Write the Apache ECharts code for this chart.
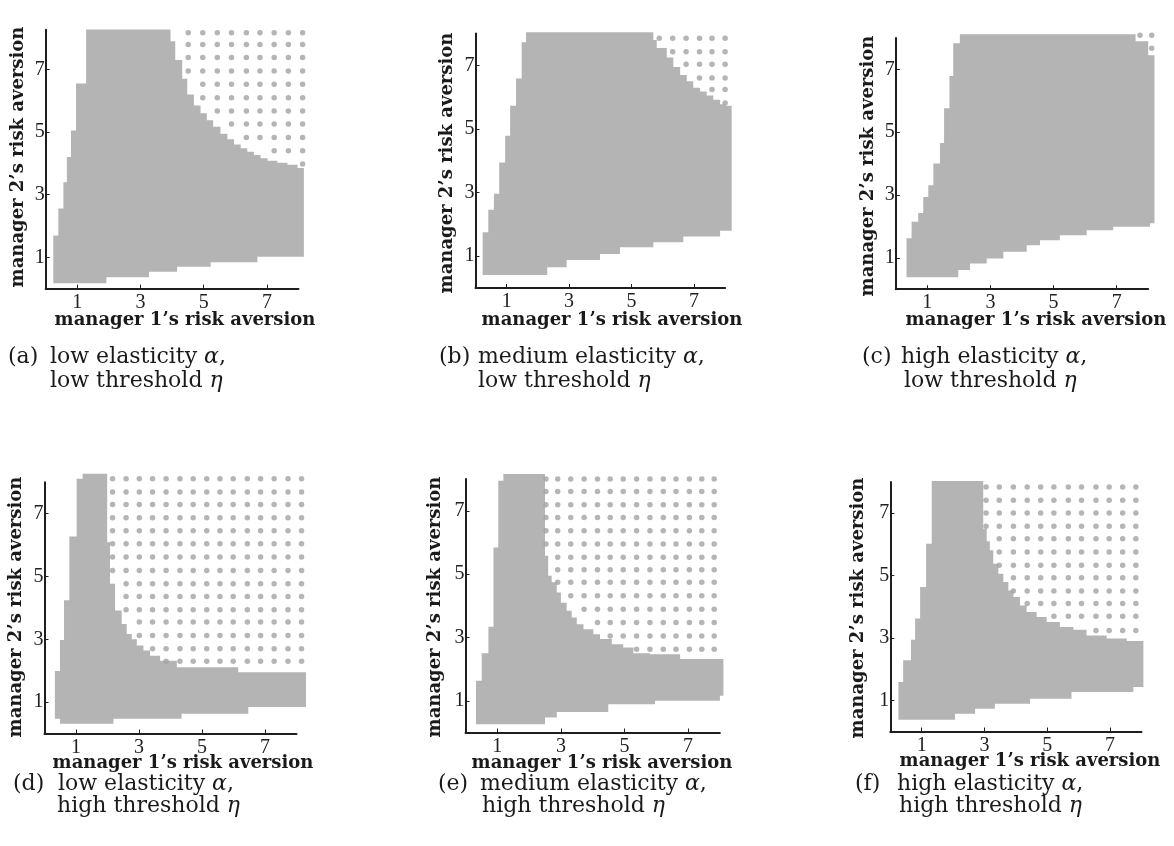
<!DOCTYPE html>
<html>
<head>
<meta charset="utf-8">
<script src="https://cdn.jsdelivr.net/npm/echarts@6/dist/echarts.min.js"></script>
<style>
  html, body { margin: 0; padding: 0; background: #fff; }
  #chart { width: 1174px; height: 846px; }
</style>
</head>
<body>
<div id="chart"></div>
<script>
// tick labels on both axes of every panel
const tickValues = [1, 3, 5, 7]

// (a) low elasticity, low threshold
const aUpperX = [0.24, 0.4, 0.56, 0.67, 0.8, 0.96, 1.28, 3.95, 4.1, 4.32, 4.48, 4.69, 4.9, 5.1, 5.3, 5.53, 5.75, 5.96, 6.17, 6.38, 6.59, 6.8, 7.02, 7.33, 7.65, 7.97, 8.17]
const aUpper = [1.7, 2.56, 3.4, 4.2, 5.05, 6.55, 8.28, 7.9, 7.3, 6.7, 6.2, 5.85, 5.6, 5.38, 5.17, 4.95, 4.77, 4.6, 4.48, 4.37, 4.27, 4.16, 4.08, 4.02, 3.96, 3.85]
const aLowerX = [0.24, 1.92, 3.27, 4.16, 5.22, 6.7, 8.17]
const aLower = [0.17, 0.36, 0.54, 0.7, 0.84, 1.02]
const aDotX = [4.51, 4.97, 5.43, 5.88, 6.35, 6.78, 7.23, 7.68, 8.13]
const aDotY = [8.17, 7.8, 7.38, 6.95, 6.53, 6.1, 5.67, 5.26, 4.83, 4.4, 3.98]
const aDotLow = [6.95, 6.1, 5.67, 5.26, 4.83, 4.83, 4.4, 4.4, 3.98]

// (b) medium elasticity, low threshold
const bUpperX = [0.23, 0.41, 0.59, 0.76, 0.95, 1.11, 1.3, 1.48, 1.62, 5.7, 5.81, 6.13, 6.34, 6.56, 6.77, 6.98, 7.2, 7.41, 7.62, 7.84, 8.0, 8.21]
const bUpper = [1.75, 2.46, 2.96, 3.95, 4.79, 5.73, 6.59, 7.73, 8.04, 7.8, 7.55, 7.25, 6.95, 6.7, 6.5, 6.3, 6.18, 6.05, 5.92, 5.78, 5.73]
const bLowerX = [0.23, 2.3, 2.92, 3.99, 4.63, 5.7, 6.66, 7.84, 8.21]
const bLower = [0.41, 0.65, 0.88, 1.07, 1.28, 1.44, 1.62, 1.8]
const bDotX = [5.89, 6.32, 6.75, 7.18, 7.58, 8.0]
const bDotY = [7.85, 7.43, 7.04, 6.6, 6.24, 5.82]
const bDotLow = [7.85, 7.43, 7.04, 6.6, 6.24, 5.82]

// (c) high elasticity, low threshold
const cUpperX = [0.34, 0.5, 0.71, 0.87, 1.03, 1.19, 1.4, 1.53, 1.7, 1.82, 2.03, 7.6, 8.0, 8.2]
const cUpper = [1.62, 2.15, 2.43, 2.94, 3.31, 4.0, 4.66, 5.76, 6.79, 7.83, 8.12, 7.9, 7.45]
const cLowerX = [0.34, 1.98, 2.35, 2.88, 3.41, 4.15, 4.57, 5.2, 6.05, 6.89, 8.06, 8.2]
const cLower = [0.38, 0.61, 0.82, 0.98, 1.19, 1.4, 1.56, 1.72, 1.88, 1.99, 2.1]
const cDotX = [7.74, 8.11]
const cDotY = [8.09, 7.67]
const cDotLow = [8.09, 7.67]

// (d) low elasticity, high threshold
const dUpperX = [0.33, 0.49, 0.62, 0.79, 1.02, 1.21, 1.99, 2.08, 2.24, 2.45, 2.61, 2.77, 2.93, 3.14, 3.35, 3.67, 4.2, 6.15, 8.3]
const dUpper = [1.99, 2.98, 4.24, 6.27, 8.11, 8.27, 6.09, 4.77, 3.92, 3.49, 3.17, 3.0, 2.8, 2.64, 2.48, 2.32, 2.11, 1.95]
const dLowerX = [0.33, 0.49, 2.19, 4.35, 6.47, 8.3]
const dLower = [0.47, 0.31, 0.47, 0.63, 0.84]
const dDotX = [2.16, 2.59, 3.01, 3.43, 3.86, 4.3, 4.72, 5.15, 5.57, 5.99, 6.44, 6.86, 7.29, 7.73, 8.16]
const dDotY = [8.11, 7.69, 7.29, 6.87, 6.46, 6.04, 5.62, 5.19, 4.77, 4.36, 3.94, 3.55, 3.12, 2.7, 2.3]
const dDotLow = [5.19, 3.94, 3.12, 2.7, 2.3, 2.3, 2.3, 2.3, 2.3, 2.3, 2.3, 2.3, 2.3, 2.3, 2.3]

// (e) medium elasticity, high threshold
const eUpperX = [0.33, 0.51, 0.72, 0.88, 1.03, 1.19, 2.5, 2.6, 2.71, 2.87, 3.0, 3.18, 3.34, 3.5, 3.71, 4.02, 4.23, 4.6, 4.96, 5.28, 5.8, 6.75, 8.11]
const eUpper = [1.63, 2.5, 3.34, 5.84, 7.95, 8.16, 5.58, 4.95, 4.74, 4.42, 4.1, 3.84, 3.63, 3.42, 3.26, 3.1, 2.95, 2.79, 2.68, 2.5, 2.47, 2.32]
const eLowerX = [0.33, 2.5, 2.87, 4.49, 5.96, 8.0, 8.11]
const eLower = [0.26, 0.47, 0.65, 0.89, 1.0, 1.16]
const eDotX = [2.53, 2.9, 3.31, 3.73, 4.15, 4.55, 4.96, 5.38, 5.8, 6.22, 6.62, 7.04, 7.43, 7.82]
const eDotY = [8.0, 7.61, 7.19, 6.79, 6.37, 5.95, 5.53, 5.14, 4.74, 4.32, 3.89, 3.47, 3.05, 2.63]
const eDotLow = [5.95, 4.74, 4.32, 3.89, 3.47, 3.05, 3.05, 2.63, 2.63, 2.63, 2.63, 2.63, 2.63, 2.63]

// (f) high elasticity, high threshold
const fUpperX = [0.26, 0.41, 0.66, 0.79, 0.95, 1.14, 1.32, 2.96, 3.07, 3.17, 3.28, 3.44, 3.6, 3.76, 3.92, 4.13, 4.34, 4.66, 4.98, 5.4, 5.83, 6.25, 6.89, 7.53, 8.06]
const fUpper = [1.59, 2.28, 2.94, 3.62, 4.63, 6.02, 8.03, 6.5, 6.1, 5.81, 5.38, 5.06, 4.79, 4.52, 4.31, 4.04, 3.83, 3.67, 3.51, 3.35, 3.26, 3.08, 2.98, 2.9]
const fLowerX = [0.26, 2.06, 2.7, 3.33, 4.45, 5.77, 7.74, 8.06]
const fLower = [0.38, 0.57, 0.73, 0.89, 1.05, 1.27, 1.43]
const fDotX = [3.05, 3.47, 3.92, 4.36, 4.79, 5.21, 5.67, 6.09, 6.55, 6.97, 7.4, 7.82]
const fDotY = [7.84, 7.41, 7.0, 6.58, 6.18, 5.75, 5.33, 4.93, 4.5, 4.1, 3.69, 3.24]
const fDotLow = [6.58, 5.33, 4.5, 4.1, 4.1, 3.69, 3.69, 3.69, 3.24, 3.24, 3.24, 3.24]

const captionLabels = ['(a)', '(b)', '(c)', '(d)', '(e)', '(f)']
const captionLine1 = ['low elasticity', 'medium elasticity', 'high elasticity', 'low elasticity', 'medium elasticity', 'high elasticity']
const captionLine2 = ['low threshold', 'low threshold', 'low threshold', 'high threshold', 'high threshold', 'high threshold']

const panels = [
  { up: [aUpperX, aUpper], low: [aLowerX, aLower], dots: [aDotX, aDotY, aDotLow] },
  { up: [bUpperX, bUpper], low: [bLowerX, bLower], dots: [bDotX, bDotY, bDotLow] },
  { up: [cUpperX, cUpper], low: [cLowerX, cLower], dots: [cDotX, cDotY, cDotLow] },
  { up: [dUpperX, dUpper], low: [dLowerX, dLower], dots: [dDotX, dDotY, dDotLow] },
  { up: [eUpperX, eUpper], low: [eLowerX, eLower], dots: [eDotX, eDotY, eDotLow] },
  { up: [fUpperX, fUpper], low: [fLowerX, fLower], dots: [fDotX, fDotY, fDotLow] }
]

// layout (pixels)
const grids = [
  { left: 45.7, top: 29.7, width: 252.8, height: 258.9, yMax: 8.27 },
  { left: 475.5, top: 33.6, width: 249.6, height: 254.4, yMax: 8 },
  { left: 895.8, top: 38, width: 252.4, height: 251.2, yMax: 8 },
  { left: 44.5, top: 482.3, width: 252, height: 251.2, yMax: 8 },
  { left: 465.5, top: 479.1, width: 254.4, height: 253.4, yMax: 8 },
  { left: 890.3, top: 481.9, width: 251.2, height: 249.6, yMax: 8 }
]
const xTitlePos = [[185, 320], [612, 320], [1036, 320], [183, 763], [602, 763], [1030, 761]]
const yTitlePos = [[18, 157], [447, 163], [868, 166], [16, 607], [435, 607], [858, 608]]
const capPos = [
  { lx: 8, tx: 50, t2: 50, y1: 357, y2: 381 },
  { lx: 439, tx: 478, t2: 478, y1: 357, y2: 381 },
  { lx: 862, tx: 901, t2: 904, y1: 357, y2: 381 },
  { lx: 13, tx: 58, t2: 57, y1: 784, y2: 806 },
  { lx: 438, tx: 480, t2: 482, y1: 784, y2: 806 },
  { lx: 855, tx: 897, t2: 899, y1: 784, y2: 806 }
]

const axisColor = '#1e1e1e'
const textColor = '#1a1a1a'
const regionColor = '#b4b4b4'
const dotColor = '#a2a2a2'

function regionRenderer (upX, up, lowX, low) {
  return function (params, api) {
    const pts = []
    for (let i = 0; i < up.length; i++) {
      pts.push(api.coord([upX[i], up[i]]), api.coord([upX[i + 1], up[i]]))
    }
    for (let i = low.length - 1; i >= 0; i--) {
      pts.push(api.coord([lowX[i + 1], low[i]]), api.coord([lowX[i], low[i]]))
    }
    return { type: 'polygon', shape: { points: pts }, style: { fill: regionColor } }
  }
}

function dotPoints (xs, ys, lowest) {
  const out = []
  xs.forEach((x, j) => {
    ys.forEach(y => {
      if (y >= lowest[j] - 1e-6) out.push([x, y])
    })
  })
  return out
}

const option = {
  backgroundColor: '#fff',
  animation: false,
  grid: [],
  xAxis: [],
  yAxis: [],
  series: [],
  graphic: []
}

panels.forEach((p, i) => {
  const g = grids[i]
  option.grid.push({ left: g.left, top: g.top, width: g.width, height: g.height, containLabel: false })
  option.xAxis.push({
    gridIndex: i,
    type: 'value',
    min: 0,
    max: 8,
    axisLine: { show: true, onZero: false, lineStyle: { color: axisColor, width: 2 } },
    axisTick: { show: true, inside: true, length: 4, customValues: tickValues, lineStyle: { color: axisColor } },
    axisLabel: { customValues: tickValues, fontFamily: 'Liberation Serif', fontSize: 20, color: '#222', margin: 4 },
    splitLine: { show: false }
  })
  option.yAxis.push({
    gridIndex: i,
    type: 'value',
    min: 0,
    max: g.yMax,
    axisLine: { show: true, onZero: false, lineStyle: { color: axisColor, width: 2 } },
    axisTick: { show: true, inside: true, length: 4, customValues: tickValues, lineStyle: { color: axisColor } },
    axisLabel: { customValues: tickValues, fontFamily: 'Liberation Serif', fontSize: 20, color: '#222', margin: 1 },
    splitLine: { show: false }
  })
  option.series.push({
    type: 'custom',
    xAxisIndex: i,
    yAxisIndex: i,
    clip: false,
    silent: true,
    z: 1,
    renderItem: regionRenderer(p.up[0], p.up[1], p.low[0], p.low[1]),
    data: [[0, 0]]
  })
  option.series.push({
    type: 'scatter',
    xAxisIndex: i,
    yAxisIndex: i,
    clip: false,
    silent: true,
    z: 2,
    symbol: 'circle',
    symbolSize: 5.5,
    itemStyle: { color: dotColor },
    data: dotPoints(p.dots[0], p.dots[1], p.dots[2])
  })

  const titleFont = { fontFamily: 'DejaVu Serif', fontWeight: 'bold', fontSize: 18, fill: textColor }
  option.graphic.push({
    type: 'text',
    x: xTitlePos[i][0],
    y: xTitlePos[i][1],
    style: Object.assign({ text: 'manager 1\u2019s risk aversion', align: 'center', verticalAlign: 'middle' }, titleFont)
  })
  option.graphic.push({
    type: 'text',
    x: yTitlePos[i][0],
    y: yTitlePos[i][1],
    rotation: Math.PI / 2,
    style: Object.assign({ text: 'manager 2\u2019s risk aversion', align: 'center', verticalAlign: 'middle' }, titleFont)
  })

  const c = capPos[i]
  const capFont = { fontFamily: 'DejaVu Serif', fontSize: 22, fill: textColor, verticalAlign: 'middle' }
  const rich = { i: { fontFamily: 'DejaVu Serif', fontSize: 22, fontStyle: 'italic' } }
  option.graphic.push({ type: 'text', x: c.lx, y: c.y1, style: Object.assign({ text: captionLabels[i] }, capFont) })
  option.graphic.push({ type: 'text', x: c.tx, y: c.y1, style: Object.assign({ text: captionLine1[i] + ' {i|\u03b1},', rich: rich }, capFont) })
  option.graphic.push({ type: 'text', x: c.t2, y: c.y2, style: Object.assign({ text: captionLine2[i] + ' {i|\u03b7}', rich: rich }, capFont) })
})

const myChart = echarts.init(document.getElementById('chart'))
myChart.setOption(option)
</script>
</body>
</html>
